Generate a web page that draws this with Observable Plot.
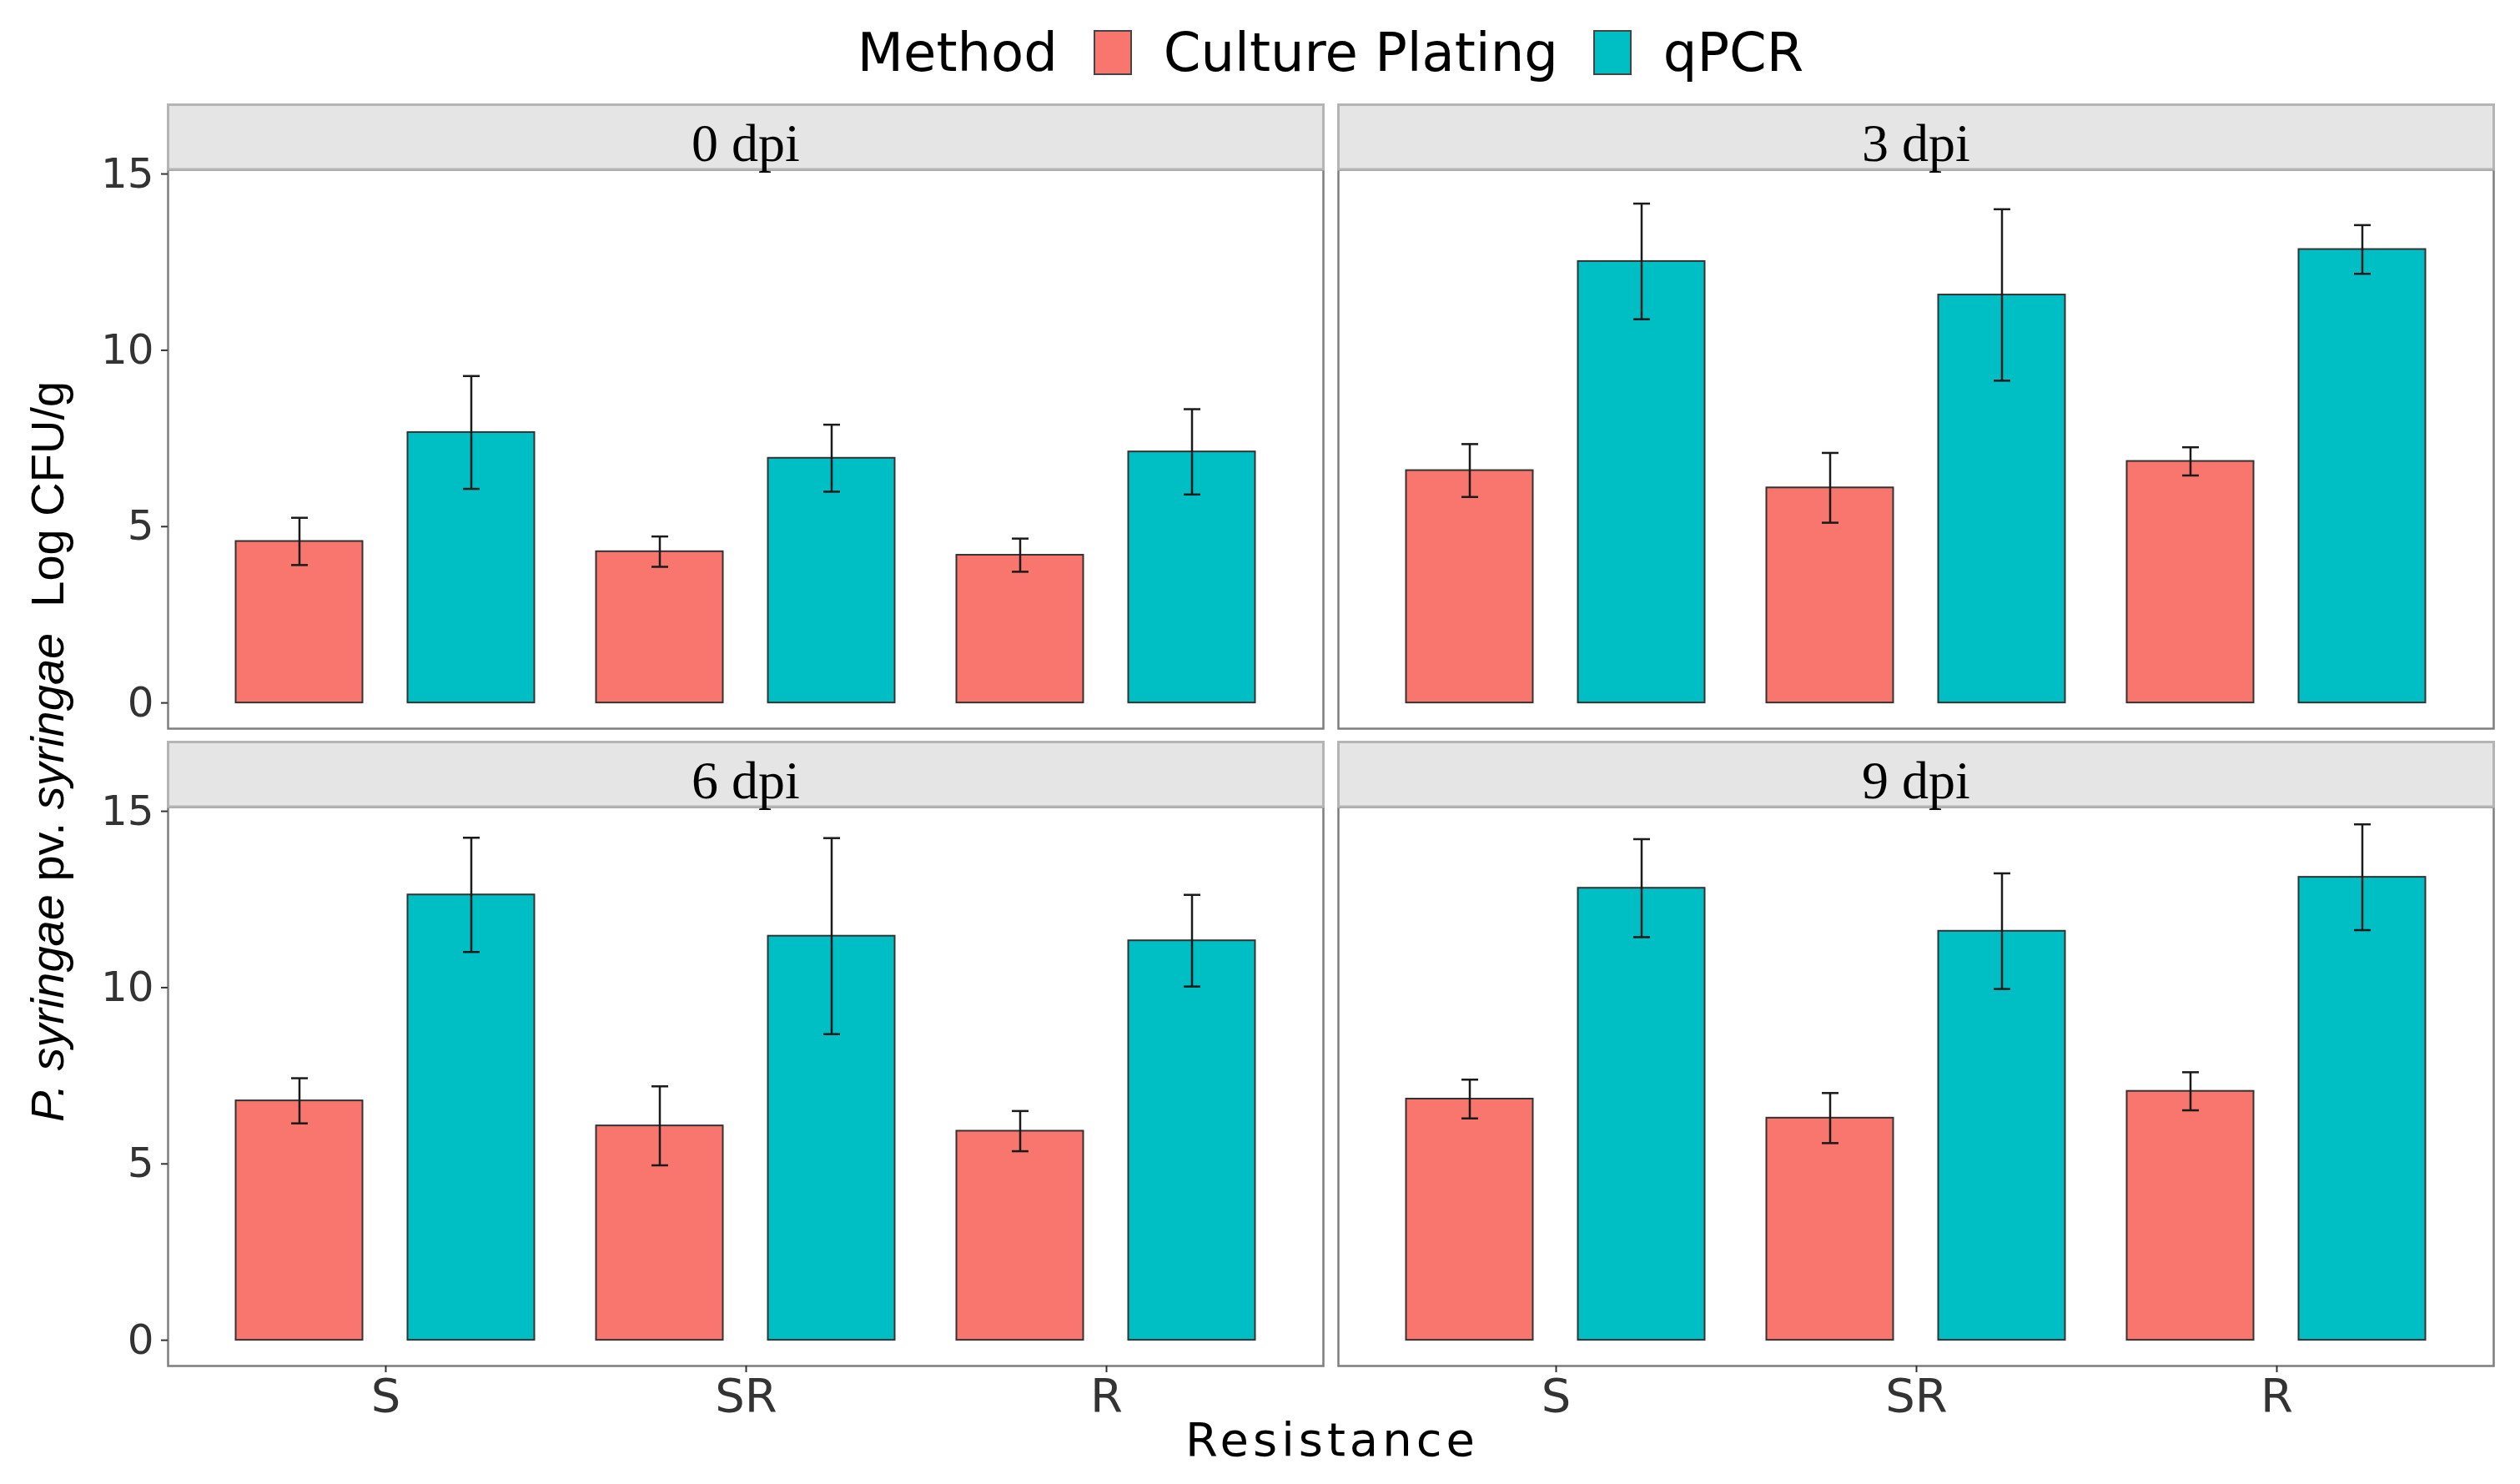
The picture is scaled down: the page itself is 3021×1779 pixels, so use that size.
<!DOCTYPE html>
<html>
<head>
<meta charset="utf-8">
<script src="https://cdn.jsdelivr.net/npm/d3@7"></script>
<script src="https://cdn.jsdelivr.net/npm/@observablehq/plot@0.6"></script>
<style>
  html, body { margin: 0; padding: 0; background: white; }
  #wrap { position: relative; width: 3021px; height: 1779px; }
  #legend {
    position: absolute; left: 0; top: 0; width: 3190px; height: 125px;
    display: flex; justify-content: center; align-items: center;
    font-family: "DejaVu Sans"; font-size: 64px; line-height: 1; color: #000;
  }
  #legend .key { width: 42px; height: 50px; border: 2px solid #444; display: inline-block; }
  #xtitle {
    position: absolute; left: 1597px; top: 1698px; transform: translateX(-50%);
    font-family: "DejaVu Sans"; font-size: 56px; line-height: 1; letter-spacing: 5px; white-space: nowrap; color: #000;
  }
  #ytitle {
    position: absolute; left: 57px; top: 901px; transform: translate(-50%, -50%) rotate(-90deg);
    font-family: "Liberation Sans"; font-size: 56px; line-height: 56px; white-space: nowrap; color: #000;
  }
</style>
</head>
<body>
<div id="wrap">
  <div id="chart"></div>
  <div id="legend"></div>
  <div id="xtitle">Resistance</div>
  <div id="ytitle"><i>P. syringae</i> pv. <i>syringae</i>&nbsp; Log CFU/g</div>
</div>
<script>
// ---- data ----
const panels = ["0 dpi", "3 dpi", "6 dpi", "9 dpi"];
const resistance = ["S", "SR", "R"];
const methods = ["Culture Plating", "qPCR"];
const methodColors = ["#F8766D", "#00BFC4"];
const cultureMean = [
  [4.58, 4.29, 4.19],
  [6.59, 6.10, 6.85],
  [6.79, 6.08, 5.93],
  [6.84, 6.30, 7.06]
];
const cultureSE = [
  [0.67, 0.43, 0.47],
  [0.75, 0.99, 0.40],
  [0.64, 1.12, 0.57],
  [0.55, 0.71, 0.54]
];
const qpcrMean = [
  [7.67, 6.94, 7.12],
  [12.52, 11.57, 12.86],
  [12.63, 11.46, 11.33],
  [12.82, 11.60, 13.13]
];
const qpcrSE = [
  [1.60, 0.95, 1.21],
  [1.64, 2.43, 0.69],
  [1.62, 2.78, 1.30],
  [1.39, 1.64, 1.50]
];
const yTicks = [0, 5, 10, 15];

// ---- tables ----
const facetTable = panels.map((label, i) => ({label, col: i % 2, row: Math.floor(i / 2)}));
const rows = [];
panels.forEach((p, i) => {
  resistance.forEach((r, j) => {
    rows.push({panel: p, col: i % 2, row: Math.floor(i / 2), res: r, method: methods[0], mean: cultureMean[i][j], se: cultureSE[i][j]});
    rows.push({panel: p, col: i % 2, row: Math.floor(i / 2), res: r, method: methods[1], mean: qpcrMean[i][j], se: qpcrSE[i][j]});
  });
});
const culture = rows.filter(d => d.method === methods[0]);
const qpcr = rows.filter(d => d.method === methods[1]);

const facetH = 670.5;
const common = {x: "res", fx: "col", fy: "row"};
const barStyle = {stroke: "#333", strokeWidth: 2};
const errStyle = {stroke: "#1a1a1a", strokeWidth: 2.5};

const chart = Plot.plot({
  width: 3021,
  height: 1779,
  marginLeft: 200,
  marginRight: 31,
  marginTop: 203,
  marginBottom: 141,
  style: {fontFamily: "DejaVu Sans", background: "white", overflow: "visible"},
  fx: {domain: [0, 1], axis: null, paddingInner: 0.01282, paddingOuter: 0},
  fy: {domain: [0, 1], axis: null, paddingInner: 0.122956, paddingOuter: 0},
  x: {domain: resistance, paddingInner: 0, paddingOuter: 0.1},
  y: {domain: [-0.73, 15.12]},
  color: {domain: methods, range: methodColors},
  marks: [
    // bars
    Plot.barY(culture, {...common, y: "mean", fill: "method", ...barStyle, insetLeft: 36.5, insetRight: 243.5}),
    Plot.barY(qpcr, {...common, y: "mean", fill: "method", ...barStyle, insetLeft: 242.5, insetRight: 37.5}),
    // error bars
    Plot.ruleX(culture, {...common, y1: d => d.mean - d.se, y2: d => d.mean + d.se, dx: -103.5, ...errStyle}),
    Plot.ruleX(qpcr, {...common, y1: d => d.mean - d.se, y2: d => d.mean + d.se, dx: 102.5, ...errStyle}),
    Plot.tickY(culture, {...common, y: d => d.mean - d.se, insetLeft: 103, insetRight: 309, ...errStyle}),
    Plot.tickY(culture, {...common, y: d => d.mean + d.se, insetLeft: 103, insetRight: 309, ...errStyle}),
    Plot.tickY(qpcr, {...common, y: d => d.mean - d.se, insetLeft: 309, insetRight: 103, ...errStyle}),
    Plot.tickY(qpcr, {...common, y: d => d.mean + d.se, insetLeft: 309, insetRight: 103, ...errStyle}),
    // panel border
    Plot.frame({stroke: "#7d7d7d", strokeWidth: 2.5}),
    // strip backgrounds (drawn over the panel's top edge, as in ggplot)
    Plot.frame({fill: "#e5e5e5", stroke: "#b4b4b4", strokeWidth: 3, insetTop: -78, insetBottom: facetH}),
    // axes
    Plot.axisY({ticks: yTicks, tickSize: 8, tickPadding: 9, fontSize: 50, color: "#333", strokeWidth: 2, label: null, facetAnchor: "left"}),
    Plot.axisX({tickSize: 8, tickPadding: 7, fontSize: 56, color: "#333", strokeWidth: 2, label: null, facetAnchor: "bottom"}),
    // strip labels
    Plot.text(facetTable, {fx: "col", fy: "row", text: "label", frameAnchor: "top", lineAnchor: "middle", dy: -31, fontSize: 64, fontFamily: "Liberation Serif", fill: "#000"})
  ]
});
document.getElementById("chart").appendChild(chart);

// ---- legend ----
const legend = document.getElementById("legend");
const title = document.createElement("span");
title.textContent = "Method";
title.style.marginRight = "43px";
legend.appendChild(title);
methods.forEach((m, i) => {
  const key = document.createElement("span");
  key.className = "key";
  key.style.background = methodColors[i];
  key.style.marginRight = "38px";
  legend.appendChild(key);
  const lab = document.createElement("span");
  lab.textContent = m;
  if (i < methods.length - 1) lab.style.marginRight = "42px";
  legend.appendChild(lab);
});
</script>
</body>
</html>
